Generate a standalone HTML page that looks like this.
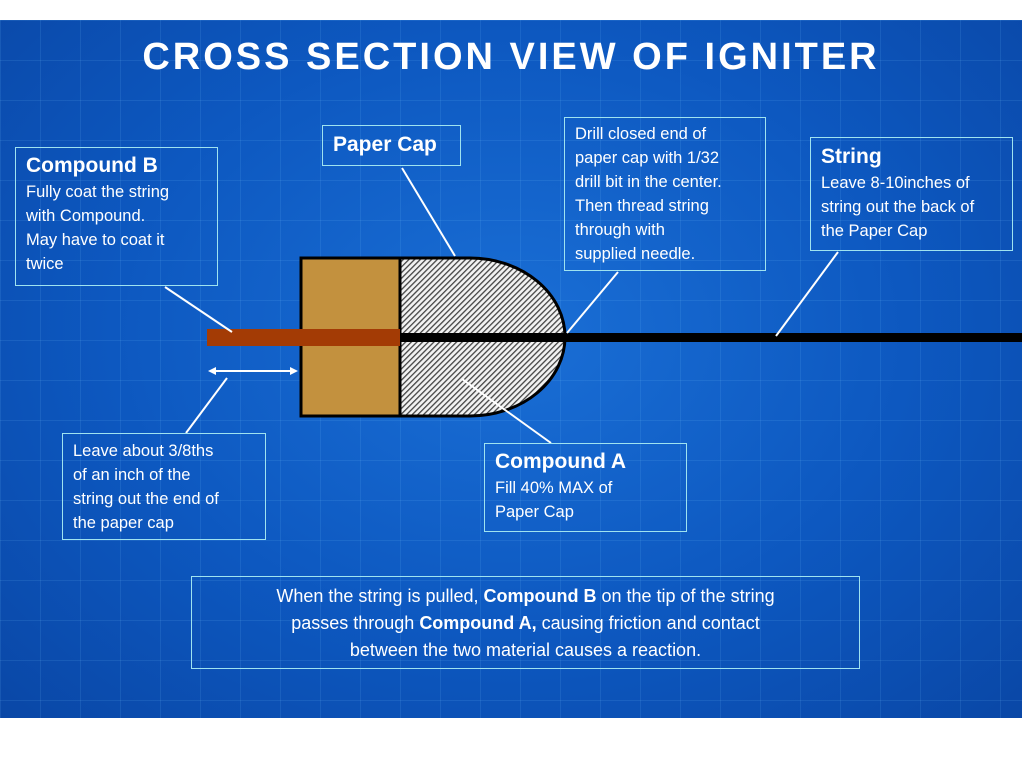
<!DOCTYPE html>
<html><head><meta charset="utf-8"><style>
body{margin:0;width:1022px;height:769px;background:#fff;overflow:hidden;font-family:"Liberation Sans",sans-serif}
.bg{position:absolute;left:0;top:20px;width:1022px;height:698px;background:radial-gradient(ellipse at 50% 45%,#1a6fd6 0%,#0d58c0 55%,#0a47a6 100%);overflow:hidden}
.grid{position:absolute;inset:0;background-image:linear-gradient(rgba(120,200,255,.12) 1px,transparent 1px),linear-gradient(90deg,rgba(120,200,255,.12) 1px,transparent 1px);background-size:40px 40px}
.box{position:absolute;border:1.5px solid #9fe3f0;color:#fff;box-sizing:border-box;padding:6px 10px;font-size:16.5px;line-height:24px;white-space:nowrap}
.box b{font-size:21px;display:block;line-height:28px}
h1{position:absolute;top:16px;left:0;width:1022px;text-align:center;margin:0;color:#fff;font-size:38px;letter-spacing:3px;font-weight:bold}
</style></head><body>
<div class="bg"><div class="grid"></div>
<h1>CROSS SECTION VIEW OF IGNITER</h1>
</div>
<svg width="1022" height="769" style="position:absolute;left:0;top:0">
<defs><pattern id="h" width="4" height="4" patternUnits="userSpaceOnUse" patternTransform="rotate(45)"><rect width="4" height="4" fill="#f2f2f2"/><rect width="1.3" height="4" fill="#444"/></pattern></defs>
<path d="M400,258 L470,258 A95,79 0 0 1 470,416 L400,416 Z" fill="url(#h)" stroke="#000" stroke-width="3"/>
<rect x="301" y="258" width="99" height="158" fill="#c3913e" stroke="#000" stroke-width="3"/>
<rect x="400" y="333" width="622" height="9" fill="#000"/>
<rect x="207" y="329" width="193" height="17" fill="#a33b05"/>
<g stroke="#fff" stroke-width="2">
<line x1="165" y1="287" x2="232" y2="332"/><line x1="402" y1="168" x2="455" y2="256"/>
<line x1="618" y1="272" x2="567" y2="333"/><line x1="838" y1="252" x2="776" y2="336"/>
<line x1="186" y1="433" x2="227" y2="378"/><line x1="551" y1="443" x2="462" y2="379"/>
<line x1="212" y1="371" x2="294" y2="371"/></g>
<path d="M208,371 l8,-4 v8z M298,371 l-8,-4 v8z" fill="#fff"/>
</svg>
<div class="box" style="left:15px;top:147px;width:203px;height:139px;padding-top:4px"><b>Compound B</b>Fully coat the string<br>with Compound.<br>May have to coat it<br>twice</div>
<div class="box" style="left:322px;top:125px;width:139px;height:41px;padding-top:5px"><b>Paper Cap</b></div>
<div class="box" style="left:564px;top:117px;width:202px;height:154px;padding-top:4px">Drill closed end of<br>paper cap with 1/32<br>drill bit in the center.<br>Then thread string<br>through with<br>supplied needle.</div>
<div class="box" style="left:810px;top:137px;width:203px;height:114px;padding-top:5px"><b>String</b>Leave 8-10inches of<br>string out the back of<br>the Paper Cap</div>
<div class="box" style="left:62px;top:433px;width:204px;height:107px;padding-top:5px">Leave about 3/8ths<br>of an inch of the<br>string out the end of<br>the paper cap</div>
<div class="box" style="left:484px;top:443px;width:203px;height:89px;padding-top:4px"><b>Compound A</b>Fill 40% MAX of<br>Paper Cap</div>
<div class="box" style="left:191px;top:576px;width:669px;height:93px;text-align:center;font-size:18px;line-height:27px;padding-top:6px">When the string is pulled, <strong>Compound B</strong> on the tip of the string<br>passes through <strong>Compound A,</strong> causing friction and contact<br>between the two material causes a reaction.</div>
</body></html>
